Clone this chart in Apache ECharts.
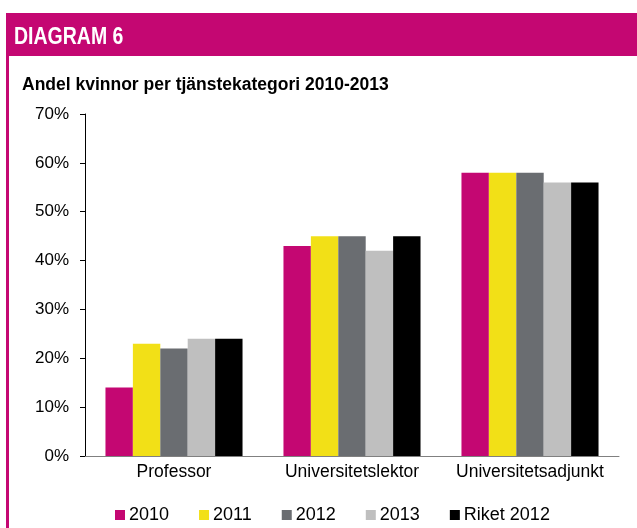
<!DOCTYPE html>
<html>
<head>
<meta charset="utf-8">
<script src="https://cdn.jsdelivr.net/npm/echarts@6/dist/echarts.min.js"></script>
<style>
  html, body { margin: 0; padding: 0; background: #fff; }
  #chart { width: 637px; height: 528px; }
</style>
</head>
<body>
<div id="chart"></div>
<script>
const categories = ["Professor", "Universitetslektor", "Universitetsadjunkt"];
const seriesNames = ["2010", "2011", "2012", "2013", "Riket 2012"];
const values2010 = [14, 43, 58];
const values2011 = [23, 45, 58];
const values2012 = [22, 45, 58];
const values2013 = [24, 42, 56];
const valuesRiket = [24, 45, 56];
const seriesColors = ["#c40772", "#f2e017", "#6a6d71", "#bfbfbf", "#000000"];

const FONT = "'Liberation Sans', Arial, sans-serif";
const MAGENTA = "#c40772";

const chart = echarts.init(document.getElementById("chart"));

const seriesData = [values2010, values2011, values2012, values2013, valuesRiket];

chart.setOption({
  animation: false,
  textStyle: { fontFamily: FONT, color: "#000" },
  graphic: [
    { type: "rect", shape: { x: 6, y: 13, width: 631, height: 43 }, style: { fill: MAGENTA } },
    { type: "rect", shape: { x: 6, y: 13, width: 3, height: 515 }, style: { fill: MAGENTA } },
    {
      type: "text",
      x: 14,
      y: 38,
      scaleY: 1.2,
      style: {
        text: "DIAGRAM 6",
        fill: "#fff",
        font: "bold 19.5px " + FONT,
        verticalAlign: "middle",
      },
    },
  ],
  title: {
    text: "Andel kvinnor per tjänstekategori 2010-2013",
    left: 22,
    top: 76,
    padding: 0,
    textStyle: { fontFamily: FONT, fontSize: 17.5, fontWeight: "bold", color: "#000" },
  },
  legend: {
    data: seriesNames,
    left: 115,
    top: 505,
    padding: 0,
    icon: "rect",
    itemWidth: 10,
    itemHeight: 10,
    itemGap: 30,
    textStyle: { fontFamily: FONT, fontSize: 18, color: "#000", padding: [0, 0, 0, -1], lineHeight: 20 },
  },
  grid: { left: 85, right: 18, top: 114, bottom: 72 },
  xAxis: {
    type: "category",
    data: categories,
    axisLine: { lineStyle: { color: "#808080", width: 1 } },
    axisTick: { length: 5, lineStyle: { color: "#808080" } },
    axisLabel: { fontFamily: FONT, fontSize: 17.5, color: "#000", margin: 7, interval: 0, hideOverlap: false },
  },
  yAxis: {
    type: "value",
    min: 0,
    max: 70,
    interval: 10,
    splitLine: { show: false },
    axisLine: { show: true, lineStyle: { color: "#000", width: 1 } },
    axisTick: { show: true, length: 5, lineStyle: { color: "#000" } },
    axisLabel: { fontFamily: FONT, fontSize: 17, color: "#000", margin: 16, formatter: "{value}%" },
  },
  series: seriesNames.map((name, i) => ({
    name: name,
    type: "bar",
    data: seriesData[i],
    barGap: "0%",
    barCategoryGap: "23%",
    itemStyle: { color: seriesColors[i] },
  })),
});
</script>
</body>
</html>
